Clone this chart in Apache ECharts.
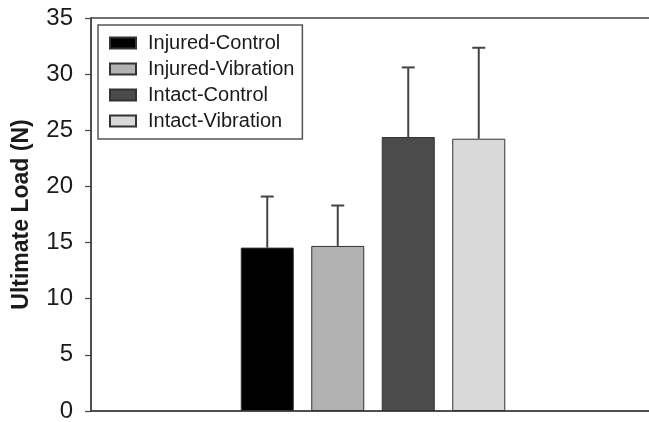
<!DOCTYPE html>
<html>
<head>
<meta charset="utf-8">
<script src="https://cdn.jsdelivr.net/npm/echarts@6/dist/echarts.min.js"></script>
<style>html,body{margin:0;padding:0;background:#fff;}#c{width:649px;height:422px;}</style>
</head>
<body>
<div id="c"></div>
<script>
const groups = ['Injured-Control', 'Injured-Vibration', 'Intact-Control', 'Intact-Vibration'];
const slots = ['', '', 'Injured-Control', 'Injured-Vibration', 'Intact-Control', 'Intact-Vibration', '', ''];
const means = [14.55, 14.7, 24.4, 24.25];
const errTops = [19.1, 18.3, 30.6, 32.35];
const colors = ['#000000', '#b2b2b2', '#4b4b4b', '#d9d9d9'];
const yTicks = [0, 5, 10, 15, 20, 25, 30, 35];

const font = "'Liberation Sans', Arial, sans-serif";
const chart = echarts.init(document.getElementById('c'), null, {renderer: 'canvas'});

const barSeries = groups.map((g, i) => ({
  name: g,
  type: 'bar',
  barWidth: 53,
  barGap: '-100%',
  data: slots.map(s => s === g ? means[i] : null),
  itemStyle: { color: colors[i], borderColor: '#333', borderWidth: 1 },
  z: 2
}));

const errData = groups.map((g, i) => [slots.indexOf(g), means[i], errTops[i]]);

option = {
  animation: false,
  backgroundColor: '#fff',
  grid: { left: 91, top: 18, width: 564, bottom: 11, containLabel: false, outerBoundsMode: 'none', show: true, borderColor: '#444', borderWidth: 1.5, backgroundColor: 'transparent' },
  legend: {
    data: groups,
    orient: 'vertical',
    left: 98, top: 25,
    icon: 'rect',
    itemWidth: 26, itemHeight: 11, itemGap: 6,
    padding: [8, 8, 8, 11],
    borderColor: '#555', borderWidth: 1.5,
    textStyle: { fontFamily: font, fontSize: 20, color: '#1a1a1a', padding: [0, 0, 0, 7] }
  },
  xAxis: {
    type: 'category',
    data: slots,
    axisLine: { show: true, lineStyle: { color: '#444', width: 1.5 } },
    axisTick: { show: false },
    axisLabel: { show: false },
    splitLine: { show: false }
  },
  yAxis: {
    type: 'value',
    min: yTicks[0], max: yTicks[yTicks.length - 1], interval: 5,
    name: 'Ultimate Load (N)',
    nameLocation: 'middle',
    nameGap: 58,
    nameTextStyle: { fontFamily: font, fontSize: 23, fontWeight: 'bold', color: '#1a1a1a' },
    axisLine: { show: true, lineStyle: { color: '#444', width: 1.5 } },
    axisTick: { show: true, inside: false, length: 6, lineStyle: { color: '#444', width: 1.2 } },
    axisLabel: { fontFamily: font, fontSize: 24, color: '#1a1a1a', margin: 18 },
    splitLine: { show: false }
  },
  series: barSeries.concat([{
    type: 'custom',
    name: 'err',
    data: errData,
    z: 3,
    renderItem: function (params, api) {
      const x = api.value(0);
      const base = api.coord([x, api.value(1)]);
      const top = api.coord([x, api.value(2)]);
      const style = { stroke: '#444', lineWidth: 2 };
      return {
        type: 'group',
        children: [
          { type: 'line', shape: { x1: base[0], y1: base[1], x2: top[0], y2: top[1] }, style: style },
          { type: 'line', shape: { x1: top[0] - 6.5, y1: top[1], x2: top[0] + 6.5, y2: top[1] }, style: style }
        ]
      };
    }
  }])
};
chart.setOption(option);
</script>
</body>
</html>
